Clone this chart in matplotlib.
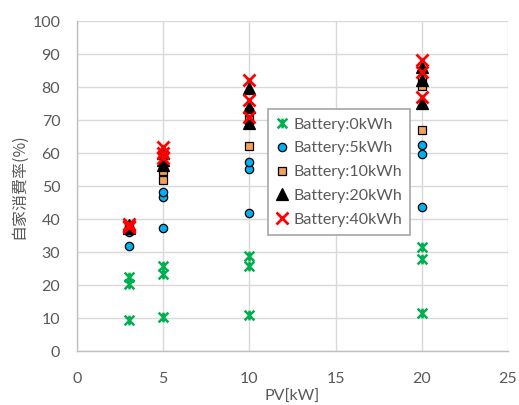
import matplotlib
matplotlib.use("Agg")
import matplotlib.pyplot as plt
from matplotlib.path import Path

# Data
pv_x = [3, 3, 3, 5, 5, 5, 10, 10, 10, 20, 20, 20]
bat_0 = [9.5, 20.3, 22.4, 10.2, 23.3, 25.8, 10.9, 25.8, 28.8, 11.4, 27.8, 31.5]
bat_5 = [31.8, 36.0, 37.2, 37.4, 46.8, 48.3, 41.7, 55.3, 57.2, 43.6, 59.8, 62.3]
bat_10 = [36.8, 37.3, 37.7, 51.8, 54.6, 56.5, 62.1, 70.0, 72.5, 67.0, 80.3, 82.5]
bat_20 = [37.4, 37.9, 38.3, 56.4, 58.0, 59.9, 69.0, 74.0, 79.6, 75.1, 82.1, 86.2]
bat_40 = [37.5, 38.0, 38.4, 58.4, 60.0, 61.9, 70.8, 76.1, 82.1, 77.1, 84.6, 88.2]
labels = ["Battery:0kWh", "Battery:5kWh", "Battery:10kWh", "Battery:20kWh", "Battery:40kWh"]
x_ticks = [0, 5, 10, 15, 20, 25]
y_ticks = [0, 10, 20, 30, 40, 50, 60, 70, 80, 90, 100]

fig = plt.figure(figsize=(5.19, 4.05), dpi=100)
ax = fig.add_axes([0.1484, 0.1333, 0.8304, 0.8148])

star = Path([(-1, -1), (1, 1), (-1, 1), (1, -1), (0, -1), (0, 1)],
            [Path.MOVETO, Path.LINETO, Path.MOVETO, Path.LINETO, Path.MOVETO, Path.LINETO])

ax.plot(pv_x, bat_0, linestyle="none", marker=star, markersize=7,
        markeredgecolor="#00b050", markerfacecolor="none", markeredgewidth=1.8,
        label=labels[0], zorder=3)
ax.plot(pv_x, bat_5, linestyle="none", marker="o", markersize=6,
        markerfacecolor="#00b0f0", markeredgecolor="black", markeredgewidth=0.9,
        label=labels[1], zorder=4)
ax.plot(pv_x, bat_10, linestyle="none", marker="s", markersize=6,
        markerfacecolor="#f4a15c", markeredgecolor="black", markeredgewidth=0.9,
        label=labels[2], zorder=5)
ax.plot(pv_x, bat_20, linestyle="none", marker="^", markersize=8,
        markerfacecolor="black", markeredgecolor="black", markeredgewidth=0.9,
        label=labels[3], zorder=6)
ax.plot(pv_x, bat_40, linestyle="none", marker="x", markersize=8,
        markeredgecolor="#ff0000", markeredgewidth=2.0,
        label=labels[4], zorder=7)

ax.set_xlim(0, 25)
ax.set_ylim(0, 100)
ax.set_xticks(x_ticks)
ax.set_yticks(y_ticks)
ax.grid(True, color="#d9d9d9", linewidth=1.0, zorder=0)
ax.set_axisbelow(True)
for s in ["top", "right"]:
    ax.spines[s].set_visible(False)
for s in ["left", "bottom"]:
    ax.spines[s].set_color("#bfbfbf")
    ax.spines[s].set_linewidth(1.0)
ax.tick_params(length=0, labelsize=11.5, labelcolor="#595959")
ax.tick_params(axis="x", pad=15)
ax.tick_params(axis="y", pad=12)
for lab in ax.get_xticklabels() + ax.get_yticklabels():
    lab.set_fontfamily(["Lato", "DejaVu Sans"])

ax.set_xlabel("PV[kW]", fontsize=11.5, color="#595959", family=["Lato", "DejaVu Sans"], labelpad=3)
ax.set_ylabel("自家消費率(%)", fontsize=11.5, color="#595959",
              family=["Noto Sans CJK JP", "DejaVu Sans"], labelpad=4)

leg = ax.legend(loc="upper left", bbox_to_anchor=(0.443, 0.732), frameon=True,
                fancybox=False, edgecolor="#a6a6a6", framealpha=1, borderaxespad=0,
                prop={"family": ["Lato", "DejaVu Sans"], "size": 11.5},
                handlelength=0.8, handletextpad=0.3, borderpad=0.5, labelspacing=0.6)
leg.get_frame().set_linewidth(1.2)
for t in leg.get_texts():
    t.set_color("#595959")

fig.savefig("out.png", dpi=100)
